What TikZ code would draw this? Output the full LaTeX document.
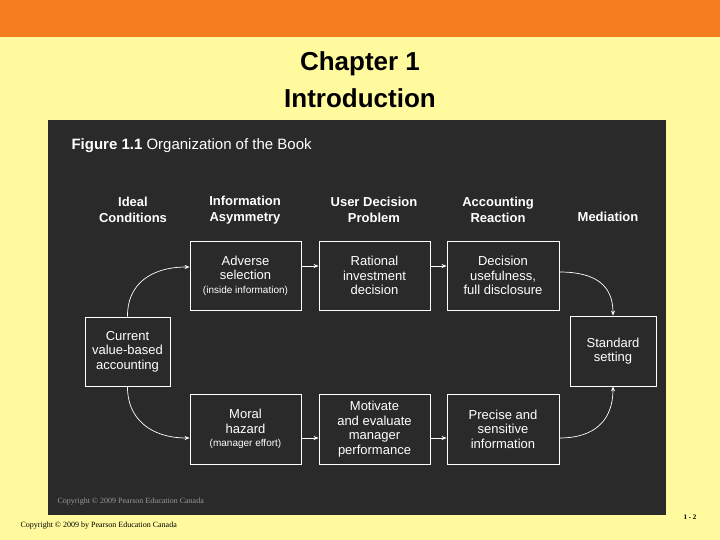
\documentclass[tikz,border=0pt]{standalone}
\usepackage{fontspec}
\setmainfont{Liberation Sans}
\newfontfamily\serifft{Liberation Serif}
\usetikzlibrary{arrows.meta}
\definecolor{bgy}{HTML}{FFFA9E}
\definecolor{orng}{HTML}{F47E20}
\definecolor{panel}{HTML}{2A2A2A}
\begin{document}
\begin{tikzpicture}[x=1pt,y=-1pt,
  bx/.style={draw=white,line width=0.8pt,text=white,align=center,font=\fontsize{13}{14.5}\selectfont,inner sep=0pt},
  hd/.style={text=white,align=center,font=\bfseries\fontsize{13}{16}\selectfont},
  ar/.style={draw=white,line width=0.7pt,-{Stealth[length=5pt,width=4pt]}}]
\useasboundingbox (0,0) rectangle (720,540);
\fill[bgy] (0,0) rectangle (720,540);
\fill[orng] (0,0) rectangle (720,37);
\node[font=\bfseries\fontsize{26}{37}\selectfont,align=center] (title) at (360,80) {Chapter 1\\Introduction};
\fill[panel] (48,120) rectangle (666,515);
\node[anchor=west,text=white,font=\fontsize{15}{18}\selectfont] (fig) at (68,146) {\textbf{Figure 1.1} Organization of the Book};
\node[hd] (h1) at (133,210) {Ideal\\Conditions};
\node[hd] (h2) at (245,210) {Information\\Asymmetry};
\node[hd] (h3) at (374,210) {User Decision\\Problem};
\node[hd] (h4) at (498,210) {Accounting\\Reaction};
\node[hd] (h5) at (608,217) {Mediation};
\node[bx,minimum width=111pt,minimum height=69pt] (adv) at (245.5,275.5) {Adverse\\selection\\[-1pt]{\fontsize{10}{12}\selectfont(inside information)}};
\node[bx,minimum width=111pt,minimum height=69pt] (rat) at (374.5,275.5) {Rational\\investment\\decision};
\node[bx,minimum width=112pt,minimum height=69pt] (dec) at (503,275.5) {Decision\\usefulness,\\full disclosure};
\node[bx,minimum width=85pt,minimum height=69pt] (cur) at (127.5,351.5) {Current\\value-based\\accounting};
\node[bx,minimum width=86pt,minimum height=70pt] (std) at (613,351) {Standard\\setting};
\node[bx,minimum width=111pt,minimum height=70pt] (mor) at (245.5,429) {Moral\\hazard\\[-1pt]{\fontsize{10}{12}\selectfont(manager effort)}};
\node[bx,minimum width=111pt,minimum height=70pt] (mot) at (374.5,429) {Motivate\\and evaluate\\manager\\performance};
\node[bx,minimum width=112pt,minimum height=70pt] (pre) at (503,429) {Precise and\\sensitive\\information};
\draw[ar] (adv.east|-0,266) -- (rat.west|-0,266);
\draw[ar] (rat.east|-0,266) -- (dec.west|-0,266);
\draw[ar] (mor.east|-0,438) -- (mot.west|-0,438);
\draw[ar] (mot.east|-0,438) -- (pre.west|-0,438);
\draw[ar] (cur.north) .. controls (127,285) and (150,267) .. (adv.west|-0,267);
\draw[ar] (cur.south) .. controls (127,418) and (150,438) .. (mor.west|-0,438);
\draw[ar] (dec.east|-0,272) .. controls (595,272) and (613,285) .. (std.north);
\draw[ar] (pre.east|-0,438) .. controls (595,438) and (613,420) .. (std.south);
\node[anchor=west,text=gray!80,font=\serifft\fontsize{8}{9}\selectfont] (c1) at (54,502) {Copyright © 2009 Pearson Education Canada};
\node[anchor=west,font=\serifft\fontsize{8}{9}\selectfont] (c2) at (17,526) {Copyright © 2009 by Pearson Education Canada};
\node[font=\serifft\bfseries\fontsize{7}{8}\selectfont] (pg) at (690,517) {1 - 2};
\end{tikzpicture}
\end{document}
